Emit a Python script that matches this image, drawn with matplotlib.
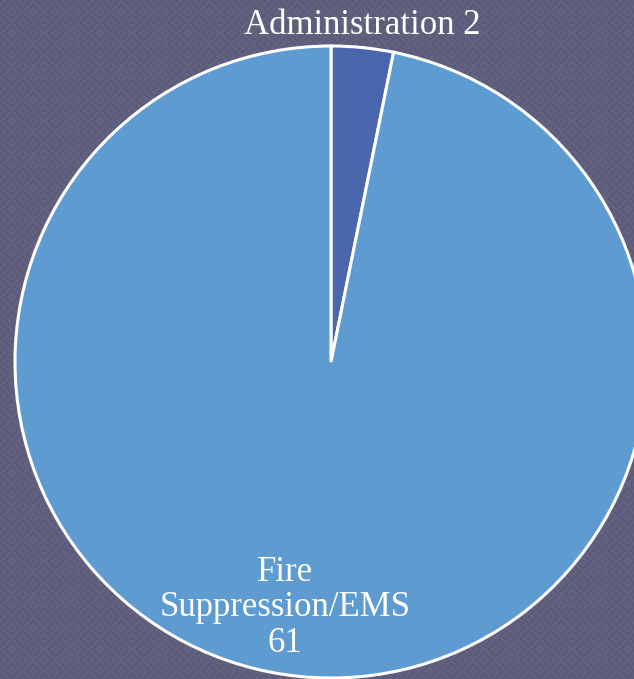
import numpy as np
import matplotlib
matplotlib.use("Agg")
import matplotlib.pyplot as plt

# Data
categories = ["Administration", "Fire\nSuppression/EMS"]
values = [2, 61]
colors = ["#4a66ac", "#5e9bd0"]

W, H = 634, 679
fig = plt.figure(figsize=(W / 100, H / 100), dpi=100)

# Patterned background
bg = fig.add_axes([0, 0, 1, 1])
yy, xx = np.mgrid[0:H, 0:W]
p = 22
u = (xx % p) - p / 2
v = (yy % p) - p / 2
d = np.abs(u) + np.abs(v)
tex = 0.5 + 0.5 * np.cos(d * 2 * np.pi / 7.0)
base = np.array([0x64, 0x64, 0x82]) / 255.0
dark = np.array([0x56, 0x56, 0x74]) / 255.0
img = base[None, None, :] * (1 - tex[..., None] * 0.6) + dark[None, None, :] * tex[..., None] * 0.6
bg.imshow(img, extent=[0, W, 0, H], aspect="auto")
bg.axis("off")

# Pie in pixel coordinates
ax = fig.add_axes([0, 0, 1, 1])
ax.patch.set_alpha(0)

wedges, _ = ax.pie(values, colors=colors, startangle=90, counterclock=False,
                   center=(331, H - 362), radius=316,
                   wedgeprops=dict(edgecolor="white", linewidth=2.2))
ax.set_xlim(0, W)
ax.set_ylim(0, H)
ax.set_aspect("equal")
ax.axis("off")

font = dict(family="Liberation Serif", color="white", fontsize=25, ha="center", va="center")
ax.text(362, H - 25, f"{categories[0]} {values[0]}", **font)
ax.text(285, H - 608, f"{categories[1]}\n{values[1]}", linespacing=1.1, **font)

fig.savefig("out.png", dpi=100)
